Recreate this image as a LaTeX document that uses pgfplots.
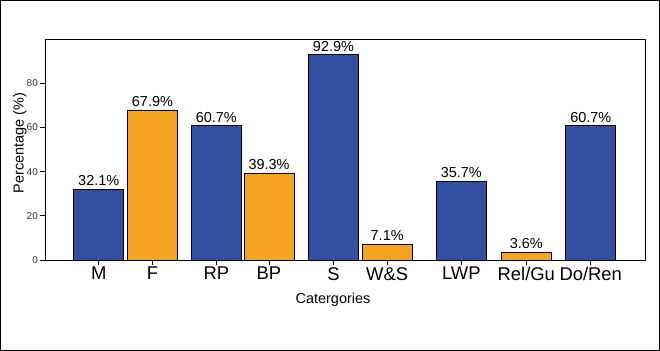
\documentclass[border=0pt]{standalone}
\usepackage{pgfplots}
\pgfplotsset{compat=1.18}
\usepackage{fontspec}
\setmainfont{Liberation Sans}
\definecolor{barblue}{RGB}{50,79,160}
\definecolor{barorange}{RGB}{245,163,35}
\begin{document}
\begin{tikzpicture}
\begin{axis}[
  scale only axis, width=600bp, height=221bp,
  xmin=0, xmax=11.17, ymin=0, ymax=100,
  axis line style={line width=0.9bp},
  tick pos=left, tick align=outside, major tick length=5bp,
  every tick/.style={black, line width=0.8bp},
  ytick={0,20,40,60,80},
  xtick={1,2,3.19,4.17,5.37,6.37,7.75,8.96,10.16},
  xticklabels={M,F,RP,BP,S,W\&S,LWP,Rel/Gu,Do/Ren},
  xticklabel style={font=\fontsize{18.5}{20}\selectfont, text=black, inner sep=2bp},
  yticklabel style={font=\fontsize{10}{12}\selectfont, text=black!80, inner sep=2bp},
  /pgf/number format/assume math mode=true,
  ylabel={Percentage (\%)}, xlabel={Catergories},
  label style={font=\fontsize{14.5}{16}\selectfont},
  ylabel style={at={(axis description cs:-0.0417,0.529)}, anchor=center},
  xlabel style={at={(axis description cs:0.48,-0.181)}, anchor=center},
  ybar, bar width=0.93,
  nodes near coords={\pgfmathprintnumber[fixed,precision=1,fixed zerofill]{\pgfplotspointmeta}\%},
  every node near coord/.append style={font=\fontsize{14.5}{16}\selectfont, text=black, inner sep=0pt, yshift=3bp},
]
\addplot[bar shift=0pt, fill=barblue, draw=black, line width=0.8bp]
  coordinates {(1,32.1) (3.19,60.7) (5.37,92.9) (7.75,35.7) (10.16,60.7)};
\addplot[bar shift=0pt, fill=barorange, draw=black, line width=0.8bp]
  coordinates {(2,67.9) (4.17,39.3) (6.37,7.1) (8.96,3.6)};
\end{axis}
\draw[line width=1bp] ([xshift=-44.5bp,yshift=-90.5bp]current axis.south west) rectangle ([xshift=14.5bp,yshift=38.5bp]current axis.north east);
\end{tikzpicture}
\end{document}
